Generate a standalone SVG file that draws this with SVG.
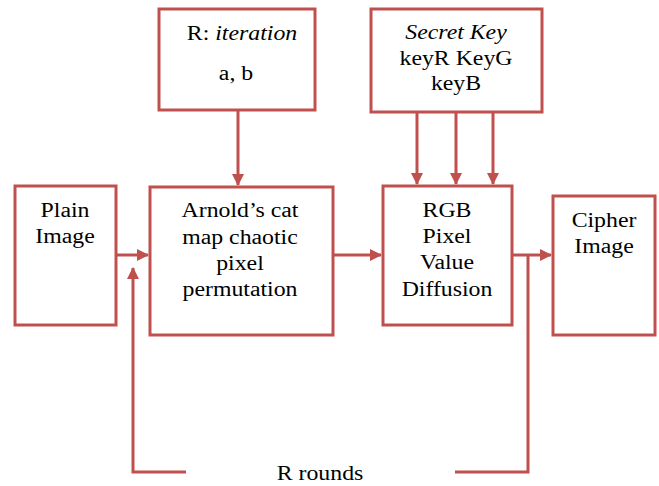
<svg xmlns="http://www.w3.org/2000/svg" width="659" height="486" viewBox="0 0 659 486">
<style>
.box{fill:#fff;stroke:#C0504D;stroke-width:3}
.ln{fill:none;stroke:#C0504D;stroke-width:3}
text{font-family:'Liberation Serif','Times New Roman',serif;font-size:20px;fill:#000;text-anchor:middle}
.it{font-style:italic}
</style>
<defs>
<marker id="ah" markerWidth="12" markerHeight="12" refX="11" refY="6" orient="auto" markerUnits="userSpaceOnUse">
<path d="M0,0 L12,6 L0,12 z" fill="#C0504D"/>
</marker>
</defs>
<g id="iter">
<rect class="box" x="159" y="9" width="156" height="101"/>
<text transform="translate(242,40) scale(1.19,1)">R: <tspan class="it">iteration</tspan></text>
<text transform="translate(236,80) scale(1.19,1)">a, b</text>
</g>
<g id="key">
<rect class="box" x="371" y="9" width="171" height="103"/>
<text transform="translate(456,39) scale(1.19,1)" class="it">Secret Key</text>
<text transform="translate(456,65) scale(1.19,1)">keyR KeyG</text>
<text transform="translate(456,90) scale(1.19,1)">keyB</text>
</g>
<g id="plain">
<rect class="box" x="15" y="186" width="101" height="139"/>
<text transform="translate(65,217) scale(1.19,1)">Plain</text>
<text transform="translate(65,243) scale(1.19,1)">Image</text>
</g>
<g id="arnold">
<rect class="box" x="150" y="187" width="183" height="148"/>
<text transform="translate(240,217) scale(1.19,1)">Arnold’s cat</text>
<text transform="translate(240,244) scale(1.19,1)">map chaotic</text>
<text transform="translate(240,270) scale(1.19,1)">pixel</text>
<text transform="translate(240,296) scale(1.19,1)">permutation</text>
</g>
<g id="rgb">
<rect class="box" x="383" y="186" width="129" height="139"/>
<text transform="translate(447,217) scale(1.19,1)">RGB</text>
<text transform="translate(447,243) scale(1.19,1)">Pixel</text>
<text transform="translate(447,269) scale(1.19,1)">Value</text>
<text transform="translate(447,296) scale(1.19,1)">Diffusion</text>
</g>
<g id="cipher">
<rect class="box" x="553" y="196" width="102" height="139"/>
<text transform="translate(604,227) scale(1.19,1)">Cipher</text>
<text transform="translate(604,253) scale(1.19,1)">Image</text>
</g>
<g id="rounds">
<text transform="translate(320,480) scale(1.19,1)">R rounds</text>
</g>
<g id="connectors">
<line class="ln" x1="238" y1="111" x2="238" y2="185" marker-end="url(#ah)"/>
<line class="ln" x1="417" y1="113" x2="417" y2="184" marker-end="url(#ah)"/>
<line class="ln" x1="456" y1="113" x2="456" y2="184" marker-end="url(#ah)"/>
<line class="ln" x1="493" y1="113" x2="493" y2="184" marker-end="url(#ah)"/>
<line class="ln" x1="117" y1="255" x2="148" y2="255" marker-end="url(#ah)"/>
<line class="ln" x1="334" y1="255" x2="381" y2="255" marker-end="url(#ah)"/>
<line class="ln" x1="513" y1="255" x2="551" y2="255" marker-end="url(#ah)"/>
<polyline class="ln" points="186,472 133,472 133,268" marker-end="url(#ah)"/>
<polyline class="ln" points="455,472 528,472 528,255"/>
</g>
</svg>
